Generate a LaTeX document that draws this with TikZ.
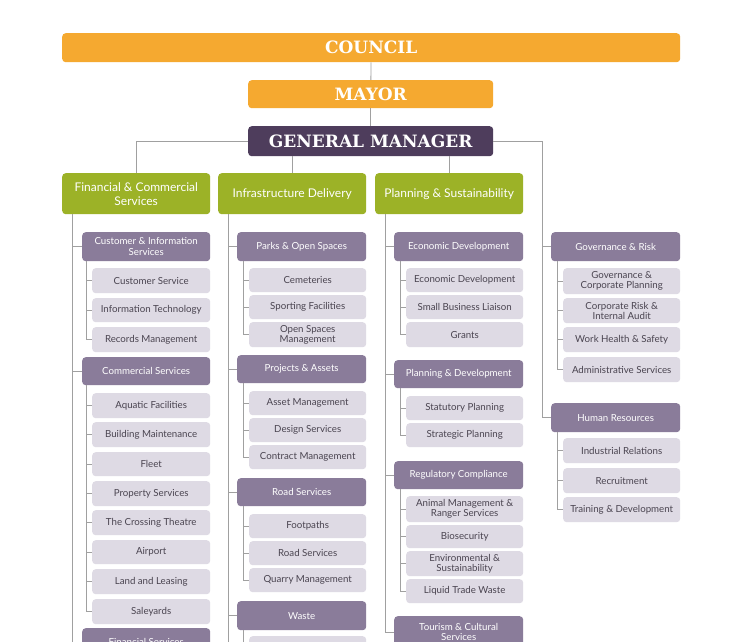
\documentclass[tikz,border=0pt]{standalone}
\usepackage{fontspec}
\setmainfont{Lato}
\newfontfamily\slab{DejaVu Serif}
\definecolor{orng}{HTML}{F5A930}
\definecolor{dpur}{HTML}{4E3D5C}
\definecolor{grn}{HTML}{9CB227}
\definecolor{spur}{HTML}{8A7C9A}
\definecolor{lpur}{HTML}{DEDAE4}
\definecolor{ltxt}{HTML}{4A4450}
\definecolor{lnc}{HTML}{A0A0A0}
\tikzset{
 base/.style={anchor=north west, rounded corners=3.5pt, inner sep=0pt, align=center},
 top/.style={base, fill=orng, text=white, font=\slab\bfseries\fontsize{17}{18}\selectfont},
 gmbox/.style={base, fill=dpur, text=white, font=\slab\bfseries\fontsize{17}{18}\selectfont},
 lvl/.style={base, fill=grn, text=white, font=\fontsize{12}{14}\selectfont},
 sub/.style={base, fill=spur, text=white, font=\fontsize{9.7}{10.5}\selectfont},
 leaf/.style={base, fill=lpur, text=ltxt, font=\fontsize{9.7}{10}\selectfont},
 ln/.style={draw=lnc, line width=0.8pt}
}
\newcommand\bx[7]{\node[#2, minimum width=#5pt, minimum height=#6pt] (#1) at (#3,#4) {#7};}
\begin{document}
\begin{tikzpicture}[x=1pt,y=-1pt]
\useasboundingbox (0,0) rectangle (729,642);
\clip (0,0) rectangle (729,642);
\fill[white] (0,0) rectangle (729,642);
% top
\bx{council}{top}{62}{33}{618}{29}{COUNCIL}
\bx{mayor}{top}{248}{80}{245}{28}{MAYOR}
\bx{gm}{gmbox}{248}{126}{245}{30}{GENERAL MANAGER}
\bx{fin}{lvl}{62}{173}{148}{41}{Financial \& Commercial\\Services}
\bx{inf}{lvl}{218}{173}{148}{41}{Infrastructure Delivery}
\bx{pla}{lvl}{375}{173}{148}{41}{Planning \& Sustainability}
% column 1
\bx{cis}{sub}{82}{232}{128}{29}{Customer \& Information\\Services}
\bx{a1}{leaf}{92}{268}{118}{25}{Customer Service}
\bx{a2}{leaf}{92}{298}{118}{24}{Information Technology}
\bx{a3}{leaf}{92}{327}{118}{25}{Records Management}
\bx{com}{sub}{82}{357}{128}{28}{Commercial Services}
\bx{b1}{leaf}{92}{393}{118}{25}{Aquatic Facilities}
\bx{b2}{leaf}{92}{422}{118}{25}{Building Maintenance}
\bx{b3}{leaf}{92}{452}{118}{24}{Fleet}
\bx{b4}{leaf}{92}{481}{118}{25}{Property Services}
\bx{b5}{leaf}{92}{510}{118}{25}{The Crossing Theatre}
\bx{b6}{leaf}{92}{540}{118}{24}{Airport}
\bx{b7}{leaf}{92}{569}{118}{25}{Land and Leasing}
\bx{b8}{leaf}{92}{599}{118}{25}{Saleyards}
\bx{fsv}{sub}{82}{628}{128}{28}{Financial Services}
% column 2
\bx{pos}{sub}{237}{232}{129}{29}{Parks \& Open Spaces}
\bx{c1}{leaf}{249}{268}{117}{24}{Cemeteries}
\bx{c2}{leaf}{249}{295}{117}{24}{Sporting Facilities}
\bx{c3}{leaf}{249}{322}{117}{25}{Open Spaces\\Management}
\bx{paa}{sub}{237}{355}{129}{28}{Projects \& Assets}
\bx{d1}{leaf}{249}{391}{117}{24}{Asset Management}
\bx{d2}{leaf}{249}{418}{117}{24}{Design Services}
\bx{d3}{leaf}{249}{445}{117}{24}{Contract Management}
\bx{rds}{sub}{237}{478}{129}{28}{Road Services}
\bx{e1}{leaf}{249}{514}{117}{24}{Footpaths}
\bx{e2}{leaf}{249}{541}{117}{24}{Road Services}
\bx{e3}{leaf}{249}{568}{117}{24}{Quarry Management}
\bx{wst}{sub}{237}{601}{129}{29}{Waste}
\bx{f1}{leaf}{249}{636}{117}{24}{Waste Management}
% column 3
\bx{eco}{sub}{394}{232}{129}{29}{Economic Development}
\bx{g1}{leaf}{406}{268}{117}{24}{Economic Development}
\bx{g2}{leaf}{406}{295}{117}{24}{Small Business Liaison}
\bx{g3}{leaf}{406}{322}{117}{25}{Grants}
\bx{pad}{sub}{394}{360}{129}{28}{Planning \& Development}
\bx{h1}{leaf}{406}{396}{117}{24}{Statutory Planning}
\bx{h2}{leaf}{406}{423}{117}{24}{Strategic Planning}
\bx{reg}{sub}{394}{461}{129}{28}{Regulatory Compliance}
\bx{i1}{leaf}{406}{496}{117}{26}{Animal Management \&\\Ranger Services}
\bx{i2}{leaf}{406}{525}{117}{23}{Biosecurity}
\bx{i3}{leaf}{406}{551}{117}{25}{Environmental \&\\Sustainability}
\bx{i4}{leaf}{406}{579}{117}{24}{Liquid Trade Waste}
\bx{tcs}{sub}{394}{616}{129}{32}{Tourism \& Cultural\\Services}
% column 4
\bx{gov}{sub}{551}{232}{129}{29}{Governance \& Risk}
\bx{j1}{leaf}{563}{268}{117}{26}{Governance \&\\Corporate Planning}
\bx{j2}{leaf}{563}{298}{117}{25}{Corporate Risk \&\\Internal Audit}
\bx{j3}{leaf}{563}{327}{117}{25}{Work Health \& Safety}
\bx{j4}{leaf}{563}{357}{117}{25}{Administrative Services}
\bx{hr}{sub}{551}{403}{129}{29}{Human Resources}
\bx{k1}{leaf}{563}{438}{117}{25}{Industrial Relations}
\bx{k2}{leaf}{563}{468}{117}{25}{Recruitment}
\bx{k3}{leaf}{563}{497}{117}{25}{Training \& Development}
% top connectors
\draw[ln] (council) -- (mayor);
\draw[ln] (mayor) -- (gm);
\draw[ln] (gm.west) -| (fin.north);
\draw[ln] (gm.south -| inf.north) -- (inf.north);
\draw[ln] (gm.south -| pla.north) -- (pla.north);
\coordinate (t4) at (542,0);
\draw[ln] (gm.east) -| (t4 |- hr.west) -- (hr.west);
\draw[ln] (t4 |- gov.west) -- (gov.west);
% trunks
\coordinate (t1) at (72,214);
\coordinate (t2) at (228,214);
\coordinate (t3) at (385,214);
\draw[ln] (t1) -- (t1 |- 0,650);
\draw[ln] (t2) -- (t2 |- 0,650);
\draw[ln] (t3) -- (t3 |- tcs.west) -- (tcs.west);
\foreach \n in {cis,com,fsv} \draw[ln] (t1 |- \n.west) -- (\n.west);
\foreach \n in {pos,paa,rds,wst} \draw[ln] (t2 |- \n.west) -- (\n.west);
\foreach \n in {eco,pad,reg} \draw[ln] (t3 |- \n.west) -- (\n.west);
% leaf lines
\newcommand\leafline[4]{%
 \coordinate (ll#1) at (#2,0);
 \draw[ln] (ll#1 |- #1.south) -- (ll#1 |- #3.west);
 \foreach \n in {#4} \draw[ln] (ll#1 |- \n.west) -- (\n.west);}
\leafline{cis}{86}{a3}{a1,a2,a3}
\leafline{com}{86}{b8}{b1,b2,b3,b4,b5,b6,b7,b8}
\leafline{pos}{243}{c3}{c1,c2,c3}
\leafline{paa}{243}{d3}{d1,d2,d3}
\leafline{rds}{243}{e3}{e1,e2,e3}
\leafline{wst}{243}{f1}{f1}
\leafline{eco}{400}{g3}{g1,g2,g3}
\leafline{pad}{400}{h2}{h1,h2}
\leafline{reg}{400}{i4}{i1,i2,i3,i4}
\leafline{gov}{557}{j4}{j1,j2,j3,j4}
\leafline{hr}{557}{k3}{k1,k2,k3}
\end{tikzpicture}
\end{document}
